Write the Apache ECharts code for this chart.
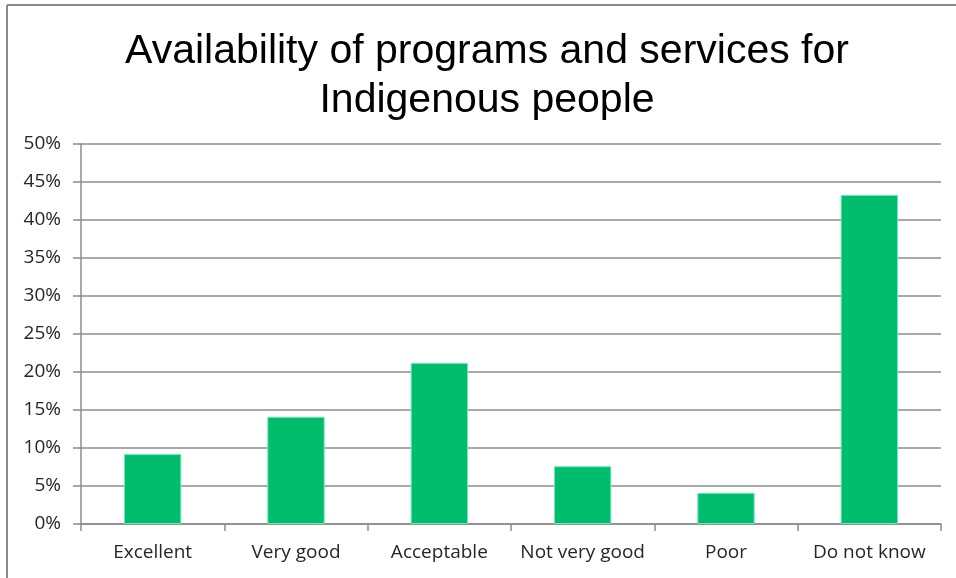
<!DOCTYPE html>
<html>
<head>
<meta charset="utf-8">
<script src="https://cdn.jsdelivr.net/npm/echarts@6/dist/echarts.min.js"></script>
<style>
html,body{margin:0;padding:0;background:#fff;}
#c{width:956px;height:578px;}
</style>
</head>
<body>
<div id="c"></div>
<script>
var categories = ['Excellent', 'Very good', 'Acceptable', 'Not very good', 'Poor', 'Do not know'];
var values = [9.2, 14.1, 21.2, 7.6, 4.1, 43.3];
var yTicks = [0, 5, 10, 15, 20, 25, 30, 35, 40, 45, 50];
var titleLines = ['Availability of programs and services for', 'Indigenous people'];

var titleStyle = {
  fontFamily: 'Liberation Sans',
  fontSize: 41,
  fontWeight: 'normal',
  color: '#000000',
  lineHeight: 49
};

var chart = echarts.init(document.getElementById('c'), null, {renderer: 'canvas'});
chart.setOption({
  backgroundColor: '#ffffff',
  animation: false,
  title: titleLines.map(function (t, i) {
    return {
      text: t,
      left: 482,
      textAlign: 'center',
      top: 22 + i * 49,
      textStyle: titleStyle
    };
  }),
  graphic: [
    {type: 'line', shape: {x1: 7, y1: 5, x2: 956, y2: 5}, style: {stroke: '#8a8a8a', lineWidth: 2}},
    {type: 'line', shape: {x1: 7, y1: 5, x2: 7, y2: 578}, style: {stroke: '#8a8a8a', lineWidth: 2}}
  ],
  grid: {left: 81, right: 15, top: 144, bottom: 54, containLabel: false},
  xAxis: {
    type: 'category',
    data: categories,
    boundaryGap: true,
    axisLine: {show: true, lineStyle: {color: '#8c8c8c', width: 1.5}},
    axisTick: {show: true, length: 7, lineStyle: {color: '#8c8c8c', width: 1.5}},
    axisLabel: {
      margin: 19,
      fontFamily: 'Open Sans',
      fontSize: 19,
      color: '#262626',
      interval: 0
    }
  },
  yAxis: {
    type: 'value',
    min: yTicks[0],
    max: yTicks[yTicks.length - 1],
    interval: 5,
    axisLine: {show: true, lineStyle: {color: '#8c8c8c', width: 1.5}},
    axisTick: {show: true, length: 8, lineStyle: {color: '#8c8c8c', width: 1.5}},
    splitLine: {show: true, lineStyle: {color: '#8c8c8c', width: 1.5}},
    axisLabel: {
      margin: 20,
      fontFamily: 'Open Sans',
      fontSize: 19,
      color: '#262626',
      formatter: function (v) { return v + '%'; }
    }
  },
  series: [{
    type: 'bar',
    data: values,
    barWidth: '40%',
    itemStyle: {color: '#00bd6d', borderColor: '#6fe8b8', borderWidth: 1}
  }]
});
</script>
</body>
</html>
